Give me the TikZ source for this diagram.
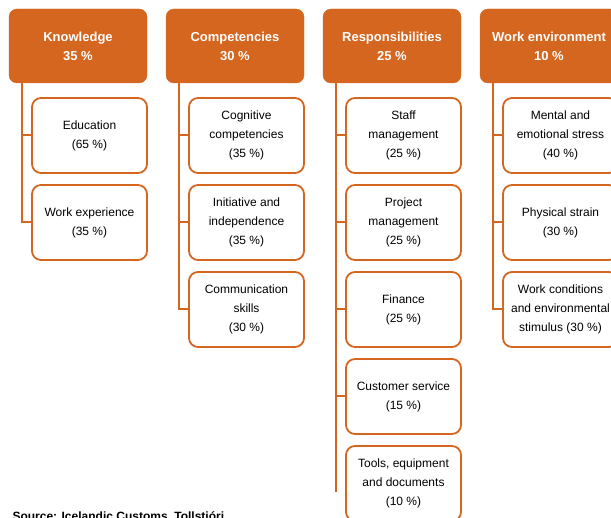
\documentclass[tikz,border=0pt]{standalone}
\usepackage{fontspec}
\setmainfont{Liberation Sans}
\usepackage{tikz}
\usetikzlibrary{positioning}
\definecolor{rust}{RGB}{212,102,32}

\begin{document}
\begin{tikzpicture}[x=1pt, y=1pt, node distance=87pt,
	head/.style={draw=rust, fill=rust, rounded corners=8pt, minimum width=138pt, minimum height=74pt, text=white, align=center, font=\fontsize{13}{19}\selectfont\bfseries},
	item/.style={draw=rust, line width=1.8pt, fill=white, rounded corners=9pt, minimum width=115pt, minimum height=75pt, align=center, font=\fontsize{12}{19}\selectfont},
	spine/.style={draw=rust, line width=2pt}]
	\useasboundingbox (0,0) rectangle (611,518);

	% column heads
	\node[head] (know) at (78,472) {Knowledge\\35 \%};
	\node[head] (comp) at (235,472) {Competencies\\30 \%};
	\node[head] (resp) at (392,472) {Responsibilities\\25 \%};
	\node[head] (env) at (549,472) {Work environment\\10 \%};

	% knowledge
	\node[item, below of=know, xshift=11.5pt, yshift=-2.5pt] (know1) {Education\\(65 \%)};
	\node[item, below of=know1] (know2) {Work experience\\(35 \%)};

	% competencies
	\node[item, below of=comp, xshift=11.5pt, yshift=-2.5pt] (comp1) {Cognitive\\competencies\\(35 \%)};
	\node[item, below of=comp1] (comp2) {Initiative and\\independence\\(35 \%)};
	\node[item, below of=comp2] (comp3) {Communication\\skills\\(30 \%)};

	% responsibilities
	\node[item, below of=resp, xshift=11.5pt, yshift=-2.5pt] (resp1) {Staff\\management\\(25 \%)};
	\node[item, below of=resp1] (resp2) {Project\\management\\(25 \%)};
	\node[item, below of=resp2] (resp3) {Finance\\(25 \%)};
	\node[item, below of=resp3] (resp4) {Customer service\\(15 \%)};
	\node[item, below of=resp4] (resp5) {Tools, equipment\\and documents\\(10 \%)};

	% work environment
	\node[item, below of=env, xshift=11.5pt, yshift=-2.5pt] (env1) {Mental and\\emotional stress\\(40 \%)};
	\node[item, below of=env1] (env2) {Physical strain\\(30 \%)};
	\node[item, below of=env2] (env3) {Work conditions\\and environmental\\stimulus (30 \%)};

	% spines
	\draw[spine] ([xshift=13pt]know.south west) |- (know1.west);
	\draw[spine] ([xshift=13pt]know.south west) |- (know2.west);
	\draw[spine] ([xshift=13pt]comp.south west) |- (comp1.west);
	\draw[spine] ([xshift=13pt]comp.south west) |- (comp2.west);
	\draw[spine] ([xshift=13pt]comp.south west) |- (comp3.west);
	\draw[spine] ([xshift=13pt]resp.south west) |- (resp1.west);
	\draw[spine] ([xshift=13pt]resp.south west) |- (resp2.west);
	\draw[spine] ([xshift=13pt]resp.south west) |- (resp3.west);
	\draw[spine] ([xshift=13pt]resp.south west) |- (resp4.west);
	\coordinate (respend) at ([xshift=13pt, yshift=-9pt]resp.south west |- resp5.west);
	\draw[spine] ([xshift=13pt]resp.south west) -- (respend);
	\draw[spine] ([xshift=13pt]env.south west) |- (env1.west);
	\draw[spine] ([xshift=13pt]env.south west) |- (env2.west);
	\draw[spine] ([xshift=13pt]env.south west) |- (env3.west);

	\node[anchor=base west, font=\fontsize{12}{14}\selectfont\bfseries] (src) at (9,-2.6) {Source: Icelandic Customs, Tollstjóri};
\end{tikzpicture}
\end{document}
